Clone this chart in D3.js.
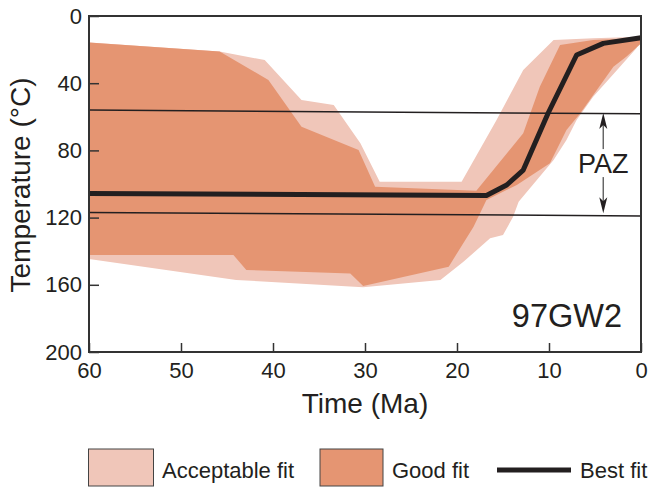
<!DOCTYPE html>
<html>
<head>
<meta charset="utf-8">
<script src="https://cdn.jsdelivr.net/npm/d3@7"></script>
<style>
  body { margin: 0; background: #fff; }
  text { font-family: "Liberation Sans", Arial, Helvetica, sans-serif; fill: #231f20; }
</style>
</head>
<body>
<div id="chart"></div>
<script>
// time (Ma) / temperature (°C) pairs
const acceptableFit = [
  [60, 15.7], [45.8, 21.2], [40.9, 26.2], [36.9, 50], [33.4, 53], [30.5, 75.8],
  [28.4, 98.6], [19.5, 98.6], [15.7, 61.9], [12.8, 32.1], [9.5, 14.3], [5.2, 13.3], [0, 12.3],
  [0, 13], [0.5, 19.2], [2.6, 32.1], [5.2, 48], [7.0, 61.9], [8.1, 73.8], [9.5, 85.7],
  [13.3, 110.5], [13.9, 119.5], [15.0, 130.4], [16.4, 132.3], [19.3, 146.3], [21.8, 157.1],
  [30.2, 161.5], [44, 157.1], [60, 144.6]
];
const goodFit = [
  [60, 15.7], [45.8, 21.2], [40.5, 38.1], [36.9, 65.9], [30.7, 79.8], [28.9, 101.6],
  [17.9, 104], [12.8, 69.8], [11.0, 42.1], [8.8, 17.3], [5.2, 14.3], [0, 13.1],
  [0, 16.3], [1.6, 24.2], [3.0, 30.2], [4.8, 44], [6.6, 57.9], [8.1, 67.9], [9.9, 87.7],
  [13.5, 100.6], [16.8, 109.5], [18.2, 125.4], [20.9, 149.2], [30.2, 160.7], [31.6, 153.2],
  [42.9, 151.2], [44.3, 142.3], [60, 142.3]
];
const bestFit = [
  [60, 105.7], [16.8, 106.8], [14.6, 100.6], [12.8, 91.7], [10.1, 57.9],
  [7.0, 23.2], [4.1, 16.3], [0, 12.9]
];
const pazTop = [[60, 56], [0, 58.2]];
const pazBottom = [[60, 117], [0, 119]];
const pazArrowAt = 4.1;
const xTicks = [60, 50, 40, 30, 20, 10, 0];
const yTicks = [0, 40, 80, 120, 160, 200];
const legendLabels = ["Acceptable fit", "Good fit", "Best fit"];
const sampleName = "97GW2";

const colLight = "#f0c6b9", colDark = "#e59572", ink = "#231f20";

const W = 650, H = 487;
const plot = { left: 89, right: 641, top: 16, bottom: 352 };

const svg = d3.select("#chart").append("svg")
    .attr("width", W)
    .attr("height", H);

const x = d3.scaleLinear().domain([60, 0]).range([plot.left, plot.right]);
const y = d3.scaleLinear().domain([0, 200]).range([plot.top, plot.bottom]);

const line = d3.line().x(d => x(d[0])).y(d => y(d[1]));

// envelopes
svg.append("path")
    .attr("d", line(acceptableFit) + "Z")
    .attr("fill", colLight);
svg.append("path")
    .attr("d", line(goodFit) + "Z")
    .attr("fill", colDark);

// partial annealing zone
[pazTop, pazBottom].forEach(p => {
  svg.append("path")
      .attr("d", line(p))
      .attr("fill", "none")
      .attr("stroke", ink)
      .attr("stroke-width", 1.5);
});

// best fit path
svg.append("path")
    .attr("d", line(bestFit))
    .attr("fill", "none")
    .attr("stroke", ink)
    .attr("stroke-width", 5)
    .attr("stroke-linejoin", "round");

// PAZ arrows
const ax = x(pazArrowAt);
const yT = y(d3.mean(pazTop, d => d[1])) + 1, yB = y(d3.mean(pazBottom, d => d[1])) - 1;
const pazMid = (yT + yB) / 2;
svg.append("line").attr("x1", ax).attr("x2", ax).attr("y1", yT + 10).attr("y2", pazMid - 14)
    .attr("stroke", "#666").attr("stroke-width", 1.5);
svg.append("line").attr("x1", ax).attr("x2", ax).attr("y1", pazMid + 14).attr("y2", yB - 10)
    .attr("stroke", "#666").attr("stroke-width", 1.5);
svg.append("path")
    .attr("d", `M${ax},${yT}L${ax - 4},${yT + 16}L${ax},${yT + 12}L${ax + 4},${yT + 16}Z`)
    .attr("fill", ink);
svg.append("path")
    .attr("d", `M${ax},${yB}L${ax - 4},${yB - 16}L${ax},${yB - 12}L${ax + 4},${yB - 16}Z`)
    .attr("fill", ink);
svg.append("text")
    .attr("x", ax)
    .attr("y", pazMid + 10)
    .attr("text-anchor", "middle")
    .attr("font-size", 27)
    .text("PAZ");

// axes (ticks inside)
const gx = svg.append("g")
    .attr("transform", `translate(0,${plot.bottom})`)
    .call(d3.axisBottom(x).tickValues(xTicks).tickSize(-9).tickSizeOuter(0).tickPadding(10));
const gy = svg.append("g")
    .attr("transform", `translate(${plot.left},0)`)
    .call(d3.axisLeft(y).tickValues(yTicks).tickSize(-10).tickSizeOuter(0).tickPadding(7));
[gx, gy].forEach(g => {
  g.select(".domain").remove();
  g.selectAll("line").attr("stroke", "#333").attr("stroke-width", 1.5);
  g.selectAll("text").attr("font-size", 22).attr("fill", ink)
      .attr("font-family", "'Liberation Sans', Arial, sans-serif");
});

svg.append("rect")
    .attr("x", plot.left)
    .attr("y", plot.top)
    .attr("width", plot.right - plot.left)
    .attr("height", plot.bottom - plot.top)
    .attr("fill", "none")
    .attr("stroke", "#333")
    .attr("stroke-width", 2);

// titles
svg.append("text")
    .attr("x", (plot.left + plot.right) / 2)
    .attr("y", 413)
    .attr("text-anchor", "middle")
    .attr("font-size", 28)
    .text("Time (Ma)");
svg.append("text")
    .attr("transform", `translate(30,${(plot.top + plot.bottom) / 2 + 1}) rotate(-90)`)
    .attr("text-anchor", "middle")
    .attr("font-size", 28)
    .text("Temperature (°C)");

svg.append("text")
    .attr("x", 622)
    .attr("y", 327)
    .attr("text-anchor", "end")
    .attr("font-size", 32.5)
    .text(sampleName);

// legend
const lg = svg.append("g");
lg.append("rect").attr("x", 88.5).attr("y", 449).attr("width", 65).attr("height", 37)
    .attr("fill", colLight).attr("stroke", "#444").attr("stroke-width", 1);
lg.append("text").attr("x", 162).attr("y", 478).attr("font-size", 22).text(legendLabels[0]);
lg.append("rect").attr("x", 320).attr("y", 449).attr("width", 63).attr("height", 37)
    .attr("fill", colDark).attr("stroke", "#444").attr("stroke-width", 1);
lg.append("text").attr("x", 392).attr("y", 478).attr("font-size", 22).text(legendLabels[1]);
lg.append("line").attr("x1", 497).attr("x2", 571).attr("y1", 470).attr("y2", 470)
    .attr("stroke", ink).attr("stroke-width", 5);
lg.append("text").attr("x", 580).attr("y", 478).attr("font-size", 22).text(legendLabels[2]);
</script>
</body>
</html>
